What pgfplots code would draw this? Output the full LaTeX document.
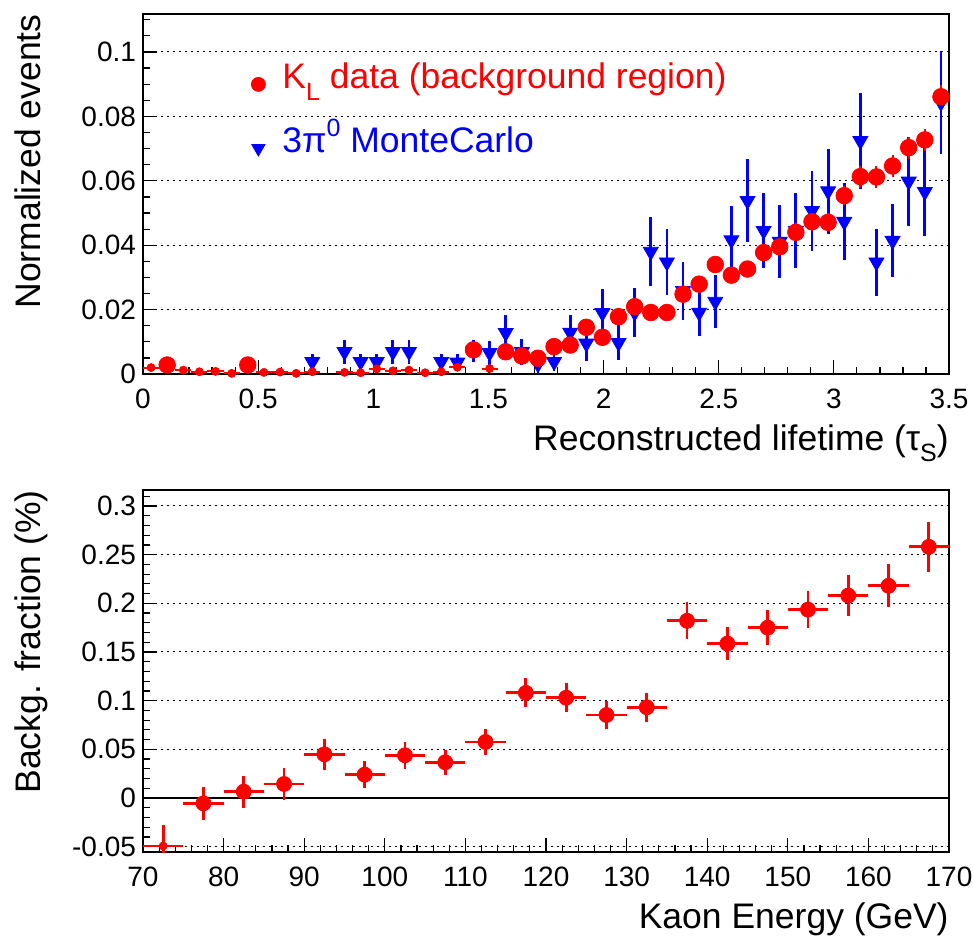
\documentclass[border=0pt]{standalone}
\usepackage{pgfplots}
\pgfplotsset{compat=1.18}
\usepackage{pgfplotstable}
\usepackage{fontspec}
\setmainfont{Liberation Sans}
\newcommand\tfont{\fontsize{17.75}{21}\selectfont}
\newcommand\kfont{\fontsize{14}{16.5}\selectfont}
\newcommand\sub[1]{\raisebox{-0.33em}{\fontsize{12.5}{13}\selectfont #1}}
\newcommand\sups[1]{\raisebox{0.45em}{\fontsize{12.5}{13}\selectfont #1}}

% K_L data, bins drawn with a circle
\pgfplotstableread{
x y ex ey
0.105 0.0028 0.035 0.0010
0.455 0.0028 0.035 0.0010
1.435 0.0075 0.035 0.0015
1.575 0.0069 0.035 0.0015
1.645 0.0056 0.035 0.0015
1.715 0.0049 0.035 0.0015
1.785 0.0085 0.035 0.0015
1.855 0.0090 0.035 0.0015
1.925 0.0145 0.035 0.0018
1.995 0.0114 0.035 0.0018
2.065 0.0178 0.035 0.0018
2.135 0.0209 0.035 0.0020
2.205 0.0191 0.035 0.0020
2.275 0.0191 0.035 0.0020
2.345 0.0248 0.035 0.0022
2.415 0.0279 0.035 0.0022
2.485 0.0340 0.035 0.0024
2.555 0.0307 0.035 0.0024
2.625 0.0326 0.035 0.0024
2.695 0.0377 0.035 0.0026
2.765 0.0395 0.035 0.0026
2.835 0.0440 0.035 0.0028
2.905 0.0473 0.035 0.0028
2.975 0.0471 0.035 0.0028
3.045 0.0554 0.035 0.0030
3.115 0.0613 0.035 0.0034
3.185 0.0612 0.035 0.0034
3.255 0.0646 0.035 0.0034
3.325 0.0703 0.035 0.0034
3.395 0.0727 0.035 0.0035
3.465 0.0861 0.035 0.0036
}\redcirc

% K_L data, bins drawn as bare error crosses
\pgfplotstableread{
x y ex ey
0.035 0.0020 0.035 0.0009
0.175 0.0012 0.035 0.0008
0.245 0.0007 0.035 0.0007
0.315 0.0008 0.035 0.0007
0.385 0.0002 0.035 0.0004
0.525 0.0005 0.035 0.0006
0.595 0.0006 0.035 0.0006
0.665 0.0002 0.035 0.0004
0.735 0.0007 0.035 0.0007
0.875 0.0005 0.035 0.0006
0.945 0.0004 0.035 0.0005
1.015 0.0016 0.035 0.0010
1.085 0.0010 0.035 0.0009
1.155 0.0012 0.035 0.0009
1.225 0.0004 0.035 0.0005
1.295 0.0007 0.035 0.0007
1.365 0.0021 0.035 0.0010
1.505 0.0017 0.035 0.0010
}\redcross

% 3pi0 Monte Carlo
\pgfplotstableread{
x y ey
0.735 0.0038 0.0025
0.875 0.0069 0.0037
0.945 0.0038 0.0025
1.015 0.0038 0.0025
1.085 0.0069 0.0037
1.155 0.0069 0.0037
1.295 0.0038 0.0025
1.365 0.0036 0.0025
1.435 0.0072 0.0035
1.505 0.0066 0.0037
1.575 0.0128 0.0055
1.645 0.0069 0.0040
1.715 0.0031 0.0030
1.785 0.0038 0.0030
1.855 0.0129 0.0055
1.925 0.0095 0.0055
1.995 0.0190 0.0073
2.065 0.0097 0.0054
2.135 0.0191 0.0075
2.205 0.0380 0.0108
2.275 0.0347 0.0103
2.345 0.0258 0.0090
2.415 0.0191 0.0072
2.485 0.0225 0.0083
2.555 0.0416 0.0106
2.625 0.0538 0.0129
2.695 0.0445 0.0116
2.765 0.0411 0.0113
2.835 0.0445 0.0117
2.905 0.0507 0.0124
2.975 0.0568 0.0132
3.045 0.0473 0.0120
3.115 0.0724 0.0150
3.185 0.0347 0.0104
3.255 0.0414 0.0113
3.325 0.0598 0.0139
3.395 0.0566 0.0136
3.465 0.0843 0.0160
}\bluemc

% Background fraction vs kaon energy
\pgfplotstableread{
x y ex ey
77.5 -0.0055 2.5 0.0170
82.5 0.0065 2.5 0.0165
87.5 0.0144 2.5 0.0160
92.5 0.0449 2.5 0.0160
97.5 0.0240 2.5 0.0140
102.5 0.0439 2.5 0.0140
107.5 0.0367 2.5 0.0130
112.5 0.0576 2.5 0.0130
117.5 0.1080 2.5 0.0150
122.5 0.1030 2.5 0.0150
127.5 0.0853 2.5 0.0140
132.5 0.0932 2.5 0.0150
137.5 0.1820 2.5 0.0190
142.5 0.1586 2.5 0.0170
147.5 0.1750 2.5 0.0180
152.5 0.1935 2.5 0.0190
157.5 0.2080 2.5 0.0210
162.5 0.2180 2.5 0.0220
167.5 0.2580 2.5 0.0260
}\bkgfrac
\pgfplotstableread{
x y ex ey
72.5 -0.0493 2.5 0.0216
}\bkgfirst

\pgfplotsset{
  rootstyle/.style={
    scale only axis,
    anchor=north west,
    width=403pt,
    tick align=inside,
    xtick pos=left, ytick pos=left,
    major tick length=7pt, minor tick length=3.5pt,
    axis line style={line width=0.7pt},
    every tick/.style={black, line width=0.6pt},
    ymajorgrids,
    major grid style={black, line width=0.5pt, dash pattern=on 0.9pt off 2.1pt},
    ticklabel style={font=\kfont},
    xticklabel style={yshift=-4pt},
    label style={font=\tfont},
    error bars/error mark=none,
    scaled ticks=false,
  }
}

\begin{document}
\begin{tikzpicture}
\useasboundingbox (0,0) rectangle (486.5pt,-468.5pt);

% ---------- top panel ----------
\begin{axis}[rootstyle,
  at={(71.5pt,-7pt)}, height=180pt,
  xmin=0, xmax=3.5, ymin=0, ymax=0.1118,
  xtick={0,0.5,1,1.5,2,2.5,3,3.5},
  xticklabels={0,0.5,1,1.5,2,2.5,3,3.5},
  minor xtick={0,0.1,...,3.5},
  ytick={0,0.02,0.04,0.06,0.08,0.1},
  yticklabels={0,0.02,0.04,0.06,0.08,0.1},
  minor ytick={0.005,0.01,0.015,0.025,0.03,0.035,0.045,0.05,0.055,0.065,0.07,0.075,0.085,0.09,0.095,0.105,0.11},
  xlabel={Reconstructed lifetime (τ\sub{S})},
  ylabel={Normalized events},
  x label style={at={(axis description cs:1,0)}, anchor=base east, yshift=-38pt, inner sep=0pt},
  y label style={at={(axis description cs:-0.1266,1)}, anchor=base east, inner sep=0pt},
  legend style={draw=none, fill=none, at={(axis description cs:0.1315,0.8667)}, anchor=north west,
    inner sep=0pt, row sep=15pt, column sep=7.5pt,
    nodes={inner sep=0pt, text height=13pt, text depth=4pt, font=\tfont}},
  legend cell align=left,
  legend image code/.code={\path[draw=none, fill=none] (-4.5pt,-6pt) rectangle (4.5pt,6pt); \draw[#1] plot coordinates {(0pt,-2.5pt)};},
]
\addlegendimage{only marks, mark=*, red, mark size=3.5pt}
\addlegendentry{\textcolor{red}{K\sub{L} data (background region)}}
\addlegendimage{only marks, mark=triangle*, blue, mark size=3.8pt, mark options={rotate=180}}
\addlegendentry{\textcolor{blue}{3π\sups{0} MonteCarlo}}

\addplot[forget plot, only marks, blue, mark=triangle*, mark size=4.3pt,
  mark options={rotate=180, fill=blue, draw=blue},
  error bars/.cd, y dir=both, y explicit, error bar style={line width=1.4pt, blue}]
  table[x=x, y=y, y error=ey] {\bluemc};
\addplot[forget plot, only marks, red, mark=*, mark options={draw=none, fill=none},
  error bars/.cd, x dir=both, x explicit, y dir=both, y explicit, error bar style={line width=1pt, red}]
  table[x=x, y=y, x error=ex, y error=ey] {\redcross};
\addplot[forget plot, only marks, red, mark=*, mark size=4.15pt, mark options={fill=red, draw=red},
  error bars/.cd, x dir=both, x explicit, y dir=both, y explicit, error bar style={line width=1pt, red}]
  table[x=x, y=y, x error=ex, y error=ey] {\redcirc};
\end{axis}

% ---------- bottom panel ----------
\begin{axis}[rootstyle,
  at={(71.5pt,-245pt)}, height=181pt,
  xmin=70, xmax=170, ymin=-0.0555, ymax=0.3164,
  xtick={70,80,...,170},
  xticklabels={70,80,90,100,110,120,130,140,150,160,170},
  minor xtick={70,72,...,170},
  ytick={-0.05,0,0.05,0.1,0.15,0.2,0.25,0.3},
  yticklabels={-0.05,0,0.05,0.1,0.15,0.2,0.25,0.3},
  minor ytick={-0.05,-0.04,-0.03,-0.02,-0.01,0.01,0.02,0.03,0.04,0.06,0.07,0.08,0.09,0.11,0.12,0.13,0.14,0.16,0.17,0.18,0.19,0.21,0.22,0.23,0.24,0.26,0.27,0.28,0.29,0.31},
  xlabel={Kaon Energy (GeV)},
  ylabel={Backg. fraction (\%)},
  x label style={at={(axis description cs:1,0)}, anchor=base east, yshift=-38pt, inner sep=0pt},
  y label style={at={(axis description cs:-0.1266,1)}, anchor=base east, inner sep=0pt},
]
\addplot[black, line width=0.7pt, forget plot] coordinates {(70,0) (170,0)};
\addplot[forget plot, only marks, red, mark=*, mark options={draw=none, fill=none},
  error bars/.cd, x dir=both, x explicit, y dir=both, y explicit, error bar style={line width=1.4pt, red}]
  table[x=x, y=y, x error=ex, y error=ey] {\bkgfirst};
\addplot[forget plot, only marks, red, mark=*, mark size=3.75pt, mark options={fill=red, draw=red},
  error bars/.cd, x dir=both, x explicit, y dir=both, y explicit, error bar style={line width=1.4pt, red}]
  table[x=x, y=y, x error=ex, y error=ey] {\bkgfrac};
\end{axis}
\end{tikzpicture}
\end{document}
